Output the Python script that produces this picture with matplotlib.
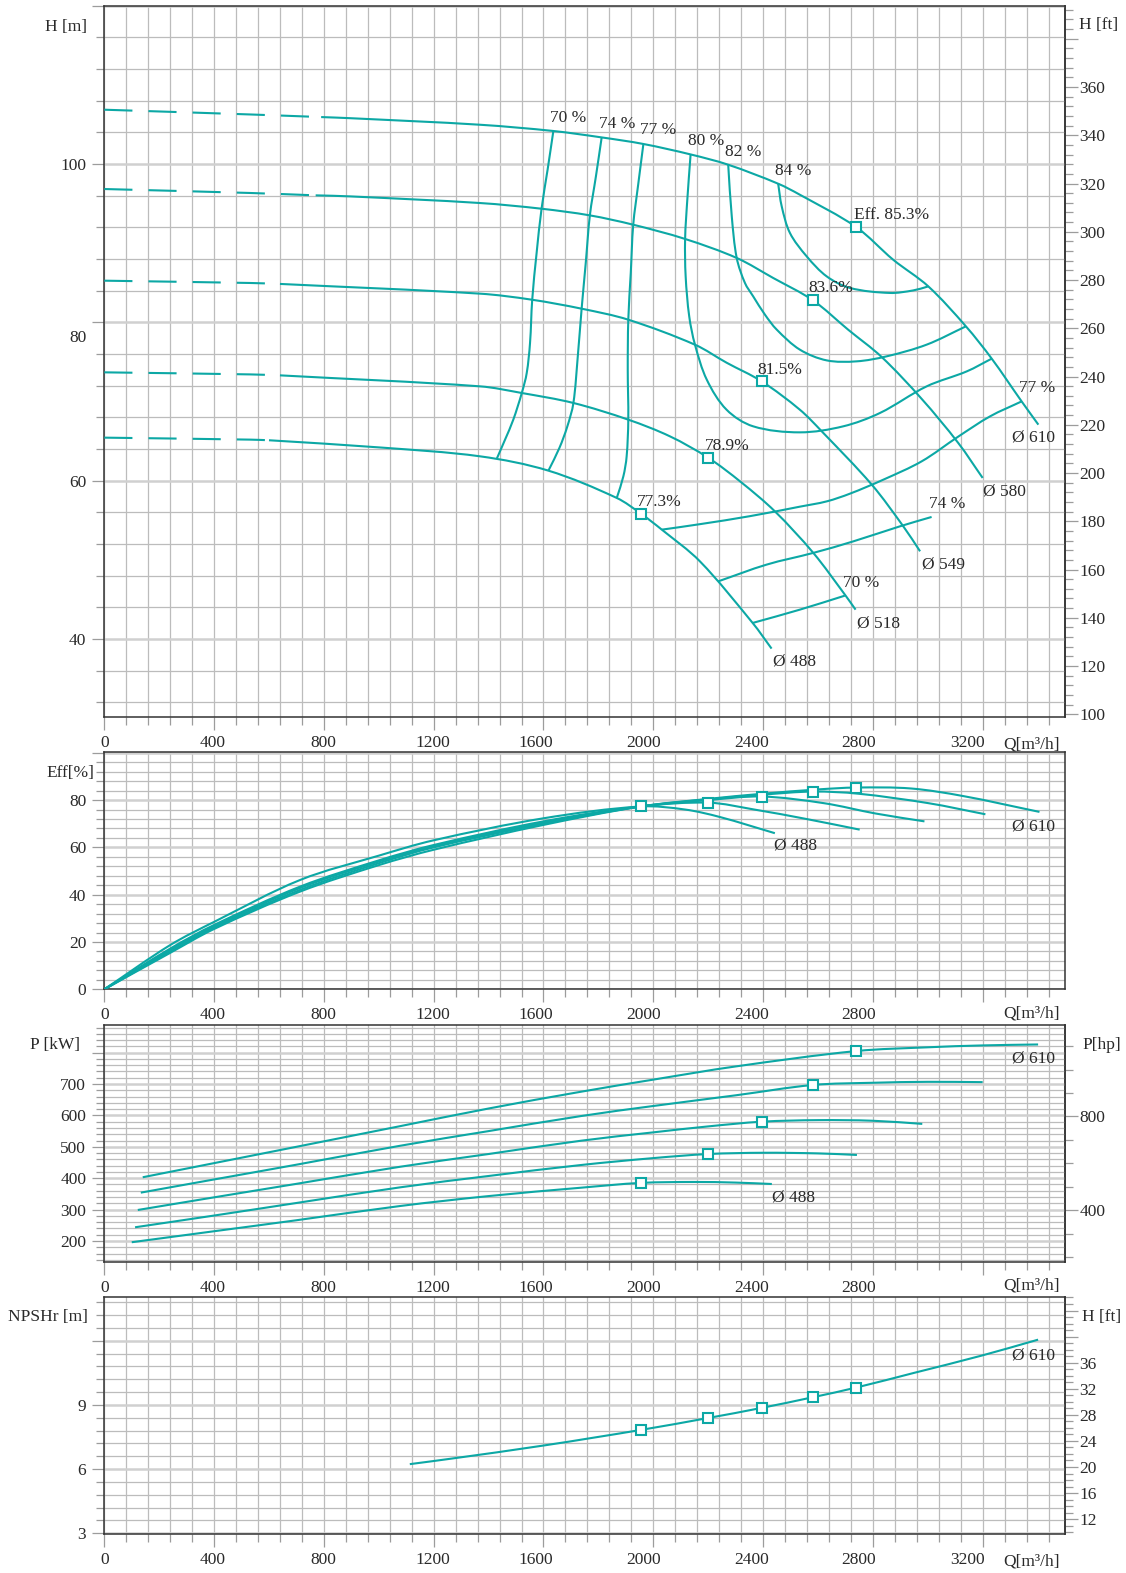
import numpy as np
import matplotlib
matplotlib.use("Agg")
import matplotlib.pyplot as plt
from matplotlib.ticker import FixedLocator, MultipleLocator
from matplotlib.transforms import ScaledTranslation
from matplotlib.path import Path
from matplotlib.patches import PathPatch

plt.rcParams['font.family'] = ['Liberation Serif', 'DejaVu Serif']

# ---------------- data ----------------
q_ticks = [0, 400, 800, 1200, 1600, 2000, 2400, 2800, 3200]

# H-Q curves (Q in m3/h, H in m); dashed part ends at q_min
q_610 = [0, 531, 790, 895, 1369, 1636, 1812, 1964, 2136, 2273, 2455, 2534, 2739, 2874, 3002, 3139, 3233, 3342, 3403]
h_610 = [106.86, 106.26, 105.93, 105.79, 104.96, 104.17, 103.36, 102.53, 101.21, 99.91, 97.51, 96.12, 92.04, 87.91, 84.54, 79.49, 75.41, 70.01, 67.07]
q_580 = [0, 531, 770, 895, 1369, 1593, 1769, 1927, 2116, 2304, 2437, 2582, 2710, 2832, 2978, 3111, 3200]
h_580 = [96.84, 96.34, 96.04, 95.91, 95.07, 94.35, 93.51, 92.33, 90.53, 88.13, 85.6, 82.77, 79.07, 75.62, 70.32, 64.76, 60.34]
q_549 = [0, 531, 640, 1369, 1557, 1739, 1909, 2152, 2267, 2395, 2534, 2614, 2796, 2911, 2972]
h_549 = [85.26, 84.97, 84.85, 83.62, 82.86, 81.72, 80.33, 77.17, 74.9, 72.54, 68.96, 66.22, 59.49, 54.22, 51.07]
q_518 = [0, 531, 640, 1369, 1521, 1709, 1909, 2061, 2201, 2320, 2443, 2583, 2698, 2737]
h_518 = [73.68, 73.42, 73.3, 71.91, 71.07, 69.81, 67.7, 65.59, 62.87, 59.8, 56.12, 50.87, 45.6, 43.7]
q_488 = [0, 531, 600, 1000, 1369, 1618, 1867, 1955, 2031, 2170, 2362, 2431]
h_488 = [65.43, 65.18, 65.1, 64.2, 63.07, 61.26, 57.81, 55.83, 53.81, 49.8, 42.02, 38.78]
q_min = [790, 770, 640, 640, 600]

# iso-efficiency lines in the H-Q field
iso70a_q = [1636, 1615, 1593, 1575, 1559, 1551, 1539, 1521, 1490, 1460, 1430]
iso70a_h = [104.17, 99.28, 94.35, 88.76, 82.86, 77.39, 73.6, 71.07, 67.7, 65.18, 62.78]
iso74a_q = [1812, 1791, 1769, 1754, 1739, 1725, 1709, 1687, 1658, 1618]
iso74a_h = [103.36, 98.43, 93.51, 87.5, 81.72, 75.7, 69.81, 66.86, 64.13, 61.26]
iso77a_q = [1964, 1945, 1927, 1918, 1909, 1907, 1909, 1903, 1891, 1867]
iso77a_h = [102.53, 97.39, 92.33, 86.23, 80.33, 74.02, 67.7, 63.07, 60.54, 57.81]
iso80_q = [2136, 2124, 2116, 2118, 2131, 2152, 2195, 2267, 2364, 2534, 2692, 2826, 2996, 3142, 3233]
iso80_h = [101.21, 95.49, 90.53, 85.8, 80.75, 77.17, 72.75, 68.96, 66.86, 66.1, 66.86, 68.55, 71.91, 73.8, 75.41]
iso82_q = [2273, 2286, 2304, 2334, 2364, 2407, 2450, 2534, 2632, 2741, 2850, 2996, 3139]
iso82_h = [99.91, 93.38, 88.13, 84.97, 83.28, 80.96, 79.07, 76.55, 75.19, 75.07, 75.7, 77.18, 79.49]
iso84_q = [2455, 2468, 2498, 2559, 2632, 2717, 2862, 2947, 3002]
iso84_h = [97.51, 94.64, 91.28, 88.33, 85.8, 84.34, 83.71, 84.03, 84.54]
iso77b_q = [2032, 2170, 2352, 2534, 2632, 2717, 2838, 2978, 3111, 3227, 3342]
iso77b_h = [53.81, 54.5, 55.51, 56.71, 57.38, 58.36, 60.12, 62.44, 65.56, 68.12, 70.01]
iso74b_q = [2237, 2413, 2583, 2729, 2899, 3014]
iso74b_h = [47.28, 49.39, 50.87, 52.33, 54.23, 55.41]
iso70b_q = [2362, 2534, 2698]
iso70b_h = [42.02, 43.7, 45.47]

# efficiency curves
eq_610 = [0, 240, 400, 713, 1000, 1200, 1600, 1955, 2200, 2400, 2600, 2739, 2939, 3129, 3407]
e_610 = [0, 15.4, 25.5, 41.3, 52.5, 59, 69.5, 77.3, 80.5, 82.7, 84.5, 85.3, 84.9, 81.7, 75]
eq_580 = [0, 240, 400, 713, 1000, 1200, 1600, 1955, 2200, 2400, 2582, 2747, 3002, 3210]
e_580 = [0, 15.9, 26.1, 42, 53.3, 60, 70, 77.3, 80.3, 82.3, 83.6, 82.7, 78.7, 74]
eq_549 = [0, 240, 400, 713, 1000, 1200, 1600, 1955, 2200, 2395, 2621, 2811, 2988]
e_549 = [0, 16.6, 26.7, 42.8, 54, 60.5, 70.5, 77.3, 80, 81.5, 78.7, 74.3, 71]
eq_518 = [0, 240, 400, 713, 1000, 1200, 1600, 1955, 2201, 2368, 2558, 2752]
e_518 = [0, 17.2, 27.2, 43.4, 54.5, 61, 71, 77.3, 78.9, 76, 72, 67.5]
eq_488 = [0, 240, 400, 713, 1000, 1200, 1600, 1955, 2116, 2244, 2443]
e_488 = [0, 18.7, 28.5, 46.2, 56.5, 63, 72.3, 77.3, 76, 72.8, 66]

# power curves (kW)
pq_610 = [140, 400, 700, 1079, 1400, 1737, 2000, 2300, 2739, 3000, 3200, 3402]
p_610 = [403, 448, 500, 566, 622, 675.5, 714, 756, 805, 817, 823, 826]
pq_580 = [133, 400, 700, 1079, 1400, 1737, 2000, 2300, 2582, 2800, 3000, 3200]
p_580 = [354, 396, 443, 503.5, 550, 598, 630, 664, 697, 704, 707, 706]
pq_549 = [122, 400, 700, 1079, 1400, 1737, 2000, 2200, 2395, 2600, 2800, 2980]
p_549 = [298.7, 339, 382, 436.6, 477, 519.4, 546, 565, 580, 585, 583, 573]
pq_518 = [112, 400, 700, 1079, 1400, 1737, 2000, 2201, 2400, 2600, 2742]
p_518 = [243.6, 281, 321, 371, 407, 442, 464, 477, 481, 479, 474]
pq_488 = [100, 400, 700, 1079, 1400, 1737, 1955, 2150, 2300, 2432]
p_488 = [196, 231, 266, 311.5, 343, 369.7, 385, 388, 386, 381.5]

# NPSHr (m)
nq = [1113, 1260, 1600, 1955, 2201, 2395, 2582, 2739, 2951, 3195, 3402]
npsh = [6.23, 6.48, 7.1, 7.83, 8.39, 8.86, 9.36, 9.81, 10.5, 11.3, 12.05]

# best efficiency points (610, 580, 549, 518, 488)
bep_q = [2739, 2582, 2395, 2201, 1955]
bep_h = [92.04, 82.77, 72.54, 62.87, 55.83]
bep_eff = [85.3, 83.6, 81.5, 78.9, 77.3]
bep_p = [805, 697, 580, 477, 385]
bep_npsh = [9.81, 9.36, 8.86, 8.39, 7.83]

# ---------------- styling ----------------
TEAL = '#0ca8a5'
TXT = '#2a2a2a'
GRIDC = '#bcbcbc'
TICKC = '#9c9c9c'
FS = 12.5
LW = 1.5
W, H = 1126, 1573

fig = plt.figure(figsize=(11.26, 15.73), dpi=100)


def box(top, bottom):
    return [104.3 / W, 1 - bottom / H, (1065 - 104.3) / W, (bottom - top) / H]


def px(x, y):
    return x / W, 1 - y / H


x_drift = [0, -1, -1, -1, -8, -10, -11, -14, -15]


def frame(ax, ylim, ymaj, ylab, ystep, xlab):
    ax.set_xlim(0, 3500)
    ax.set_ylim(*ylim)
    ax.xaxis.set_major_locator(FixedLocator(q_ticks))
    ax.set_xticklabels(xlab)
    ax.xaxis.set_minor_locator(FixedLocator(np.arange(0, 3441, 80)))
    ax.yaxis.set_major_locator(FixedLocator(ymaj))
    ax.set_yticklabels(ylab)
    ax.yaxis.set_minor_locator(MultipleLocator(ystep))
    ax.grid(which='both', axis='x', color=GRIDC, lw=0.9)
    ax.grid(which='minor', axis='y', color=GRIDC, lw=0.9)
    ax.grid(which='major', axis='y', color='#d0d0d0', lw=1.8)
    ax.tick_params(which='major', length=9, width=0.9, color=TICKC,
                   labelcolor=TXT, labelsize=FS, pad=4)
    ax.tick_params(which='minor', length=5.5, width=0.9, color=TICKC)
    for s in ax.spines.values():
        s.set_color('#333333')
        s.set_linewidth(1.1)
    ax.set_axisbelow(True)
    for lab, dx in zip(ax.get_xticklabels(), x_drift):
        lab.set_transform(lab.get_transform() + ScaledTranslation(dx / 100, 0, fig.dpi_scale_trans))


def right_axis(ax, fwd, inv, maj, labs, step):
    sec = ax.secondary_yaxis('right', functions=(fwd, inv))
    sec.yaxis.set_major_locator(FixedLocator(maj))
    sec.set_yticklabels(labs)
    sec.yaxis.set_minor_locator(MultipleLocator(step))
    sec.tick_params(which='major', length=9, width=0.9, color=TICKC,
                    labelcolor=TXT, labelsize=FS, pad=1.5)
    sec.tick_params(which='minor', length=5.5, width=0.9, color=TICKC)
    sec.spines['right'].set_color('#333333')
    sec.spines['right'].set_linewidth(1.1)
    return sec


def curve(ax, q, y, ls='-'):
    # smooth Bezier rendering through the read points
    pts = np.column_stack([q, y]).astype(float)
    d = ax.transData.transform(pts)
    L = np.hypot(*np.diff(d, axis=0).T)
    n = len(pts)
    m = np.zeros_like(pts)
    for i in range(n):
        if i == 0:
            m[i] = (pts[1] - pts[0]) / L[0]
        elif i == n - 1:
            m[i] = (pts[-1] - pts[-2]) / L[-1]
        else:
            m[i] = (pts[i + 1] - pts[i - 1]) / (L[i - 1] + L[i])
    verts = [pts[0]]
    codes = [Path.MOVETO]
    for i in range(n - 1):
        verts += [pts[i] + m[i] * L[i] / 3, pts[i + 1] - m[i + 1] * L[i] / 3, pts[i + 1]]
        codes += [Path.CURVE4] * 3
    ax.add_patch(PathPatch(Path(verts, codes), fill=False, edgecolor=TEAL,
                           lw=LW, ls=ls, capstyle='butt', zorder=3))


def squares(ax, q, y):
    ax.plot(q, y, ls='none', marker='s', ms=6.5, mew=1.5, mfc='white',
            mec=TEAL, zorder=5)


def label(ax, s, x, y):
    ax.text(x, y, s, ha='center', va='center', fontsize=FS, color=TXT, zorder=6)


q_lab_all = [str(v) for v in q_ticks]
q_lab_cut = q_lab_all[:-1] + ['']

# ---------------- H-Q panel ----------------
ax_h = fig.add_axes(box(5.7, 717.3))
frame(ax_h, (30.1, 120.0), [40, 60, 80, 100, 120], ['40', '60', '80', '100', ''], 4, q_lab_all)
lab80 = ax_h.get_yticklabels()[2]
lab80.set_transform(lab80.get_transform() + ScaledTranslation(0, -0.14, fig.dpi_scale_trans))
right_axis(ax_h, lambda m: m / 0.3048, lambda f: f * 0.3048,
           list(range(100, 381, 20)), [str(v) for v in range(100, 361, 20)] + [''], 4)

dash = (0, (13.5, 7.7))
for q, h, qm in zip([q_610, q_580, q_549, q_518, q_488],
                    [h_610, h_580, h_549, h_518, h_488], q_min):
    k = q.index(qm)
    curve(ax_h, q[:k + 1], h[:k + 1], ls=dash)
    curve(ax_h, q[k:], h[k:])

for q, h in [(iso70a_q, iso70a_h), (iso74a_q, iso74a_h), (iso77a_q, iso77a_h),
             (iso80_q, iso80_h), (iso82_q, iso82_h), (iso84_q, iso84_h),
             (iso77b_q, iso77b_h), (iso74b_q, iso74b_h), (iso70b_q, iso70b_h)]:
    curve(ax_h, q, h)
squares(ax_h, bep_q, bep_h)

for s, x, y in [('70 %', 1690, 105.8), ('74 %', 1869, 105.05), ('77 %', 2018, 104.25),
                ('80 %', 2191, 102.85), ('82 %', 2328, 101.5), ('84 %', 2510, 99.07),
                ('77 %', 3399, 71.7), ('74 %', 3069, 57.1), ('70 %', 2757, 47.08),
                ('Eff. 85.3%', 2869, 93.5), ('83.6%', 2647, 84.34), ('81.5%', 2462, 73.93),
                ('78.9%', 2268, 64.33), ('77.3%', 2021, 57.26),
                ('Ø 610', 3384, 65.39), ('Ø 580', 3281, 58.57), ('Ø 549', 3057, 49.39),
                ('Ø 518', 2820, 41.94), ('Ø 488', 2514, 37.17)]:
    label(ax_h, s, x, y)

# ---------------- efficiency panel ----------------
ax_e = fig.add_axes(box(752.3, 989.3))
frame(ax_e, (0, 100.2), [0, 20, 40, 60, 80, 100], ['0', '20', '40', '60', '80', ''], 4, q_lab_cut)
for q, e in [(eq_610, e_610), (eq_580, e_580), (eq_549, e_549), (eq_518, e_518), (eq_488, e_488)]:
    curve(ax_e, q, e)
squares(ax_e, bep_q, bep_eff)
label(ax_e, 'Ø 488', 2519, 60.6)
label(ax_e, 'Ø 610', 3386, 69.0)

# ---------------- power panel ----------------
ax_p = fig.add_axes(box(1024.7, 1262))
frame(ax_p, (133, 889), [200, 300, 400, 500, 600, 700, 800],
      ['200', '300', '400', '500', '600', '700', ''], 20, q_lab_cut)
right_axis(ax_p, lambda k: k / 0.7457, lambda hp: hp * 0.7457, [400, 800], ['400', '800'], 100)
for q, p in [(pq_610, p_610), (pq_580, p_580), (pq_549, p_549), (pq_518, p_518), (pq_488, p_488)]:
    curve(ax_p, q, p)
squares(ax_p, bep_q, bep_p)
label(ax_p, 'Ø 610', 3386, 780)
label(ax_p, 'Ø 488', 2512, 339)

# ---------------- NPSH panel ----------------
ax_n = fig.add_axes(box(1297.3, 1534.3))
frame(ax_n, (2.95, 14.03), [3, 6, 9, 12], ['3', '6', '9', ''], 0.6, q_lab_all)
right_axis(ax_n, lambda m: m / 0.3048, lambda f: f * 0.3048,
           list(range(12, 45, 4)), [str(v) for v in range(12, 37, 4)] + ['', ''], 1)
curve(ax_n, nq, npsh)
squares(ax_n, bep_q, bep_npsh)
label(ax_n, 'Ø 610', 3386, 11.3)

# ---------------- unit labels ----------------
for s, x, y in [('H [m]', 65.7, 27.3), ('H [ft]', 1099, 25), ('Eff[%]', 70.7, 773.3),
                ('P [kW]', 55, 1045), ('P[hp]', 1102, 1045),
                ('NPSHr [m]', 48.3, 1317.3), ('H [ft]', 1101.7, 1316.7)]:
    fig.text(*px(x, y), s, ha='center', va='center', fontsize=FS, color=TXT)
for y in [745, 1013.6, 1285.6, 1561.6]:
    fig.text(*px(1031, y), 'Q[m³/h]', ha='center', va='center', fontsize=FS, color=TXT)

fig.savefig('out.png', dpi=100, facecolor='white')
